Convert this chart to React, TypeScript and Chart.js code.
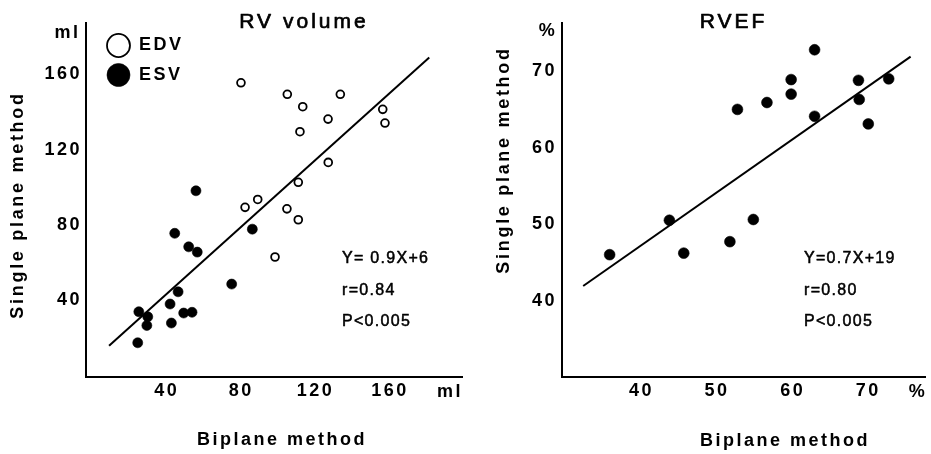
import React, { useEffect, useRef } from 'react';
import { Chart, registerables } from 'chart.js';

Chart.register(...registerables);

// ---------- Data: RV volume (ml) ----------
const edvBiplane = [79.9, 104.8, 113.1, 133.3, 156.1, 157.3, 126.7, 111.6, 126.8, 110.7, 88.9, 82.1, 104.6, 110.7, 98.2];
const edvSingle = [155.5, 149.4, 142.8, 149.4, 141.4, 134.1, 136.2, 129.5, 113.2, 102.6, 93.5, 89.3, 88.5, 82.7, 62.9];
const esvBiplane = [55.7, 44.3, 51.8, 56.4, 86.0, 74.9, 46.1, 41.8, 49.1, 53.6, 25.0, 29.8, 29.3, 42.5, 24.4];
const esvSingle = [98.1, 75.5, 68.3, 65.5, 77.7, 48.5, 44.4, 37.9, 33.1, 33.5, 33.8, 31.1, 26.5, 27.8, 17.3];
const volFitX = [9.0, 181.1];
const volFitY = [15.7, 169.0];
const volTicks = [40, 80, 120, 160];
const volStats = ['Y= 0.9X+6', 'r=0.84', 'P<0.005'];

// ---------- Data: RVEF (%) ----------
const efBiplane = [35.8, 43.7, 45.6, 51.7, 54.8, 52.7, 56.6, 59.8, 59.8, 62.9, 62.9, 68.7, 68.8, 70.0, 72.7];
const efSingle = [46.0, 50.5, 46.2, 47.7, 50.6, 65.0, 65.9, 68.9, 67.0, 72.8, 64.1, 68.8, 66.3, 63.1, 69.0];
const efFitX = [32.3, 75.6];
const efFitY = [41.9, 71.9];
const efTicks = [40, 50, 60, 70];
const efStats = ['Y=0.7X+19', 'r=0.80', 'P<0.005'];

// ---------- Text ----------
const xAxisTitle = 'Biplane method';
const yAxisTitle = 'Single plane method';

const H = 454;
const FAMILY = '"Liberation Sans", Arial, sans-serif';
const pairs = (xs: number[], ys: number[]) => xs.map((x, i) => ({ x, y: ys[i] }));

const fitLine = (xs: number[], ys: number[]) => ({
  label: '',
  data: pairs(xs, ys),
  showLine: true,
  borderColor: '#000',
  borderWidth: 2,
  pointRadius: 0,
  order: 2,
});

const volSpec = {
  width: 470,
  area: { left: 86, top: 23, right: 462, bottom: 377 },
  xRange: [-3.4, 198.7],
  yRange: [-0.9, 187.3],
  xTicks: volTicks,
  yTicks: volTicks,
  xTickPad: 3,
  yTickPad: 4,
  legend: true,
  datasets: [
    fitLine(volFitX, volFitY),
    {
      label: 'EDV',
      data: pairs(edvBiplane, edvSingle),
      pointStyle: 'circle',
      backgroundColor: '#fff',
      borderColor: '#000',
      borderWidth: 1.8,
      pointRadius: 3.9,
      order: 1,
    },
    {
      label: 'ESV',
      data: pairs(esvBiplane, esvSingle),
      pointStyle: 'circle',
      backgroundColor: '#000',
      borderColor: '#000',
      borderWidth: 0.6,
      pointRadius: 5,
      order: 1,
    },
  ],
  texts: {
    title: { text: 'RV volume', x: 304, y: 22 },
    yUnit: { text: 'ml', x: 67.5, y: 33 },
    xUnit: { text: 'ml', x: 450, y: 392 },
    yTitle: { text: yAxisTitle, x: 18, y: 205 },
    xTitle: { text: xAxisTitle, x: 282, y: 440 },
    stats: { lines: volStats, x: 342, ys: [259, 291, 322] },
    legendAt: [95.5, 25],
  },
};

const efSpec = {
  width: 461,
  area: { left: 92, top: 23, right: 457, bottom: 377 },
  xRange: [29.5, 77.5],
  yRange: [30, 76.3],
  xTicks: efTicks,
  yTicks: efTicks,
  xTickPad: 3,
  yTickPad: 5,
  legend: false,
  datasets: [
    fitLine(efFitX, efFitY),
    {
      label: 'RVEF',
      data: pairs(efBiplane, efSingle),
      pointStyle: 'circle',
      backgroundColor: '#000',
      borderColor: '#000',
      borderWidth: 0.6,
      pointRadius: 5.4,
      order: 1,
    },
  ],
  texts: {
    title: { text: 'RVEF', x: 263.5, y: 22 },
    yUnit: { text: '%', x: 78, y: 31 },
    xUnit: { text: '%', x: 448, y: 392 },
    yTitle: { text: yAxisTitle, x: 34, y: 160 },
    xTitle: { text: xAxisTitle, x: 315, y: 441 },
    stats: { lines: efStats, x: 334, ys: [259, 291, 322] },
    legendAt: null,
  },
};

const figTextPlugin = {
  id: 'figText',
  beforeDraw(chart: any) {
    chart.ctx.letterSpacing = '2.5px';
  },
  afterLayout(chart: any, _args: any, opts: any) {
    const lg = chart.legend;
    if (lg && opts && opts.legendAt) {
      const [l, t] = opts.legendAt;
      lg.left = l;
      lg.top = t;
      lg.right = l + lg.width + 60;
      lg.bottom = t + 150;
      lg.height = 150;
    }
  },
  afterDraw(chart: any, _args: any, o: any) {
    const ctx = chart.ctx as CanvasRenderingContext2D;
    const put = (
      text: string,
      x: number,
      y: number,
      font: string,
      spacing: number,
      align: CanvasTextAlign = 'center',
      rot = 0,
      thicken = 0
    ) => {
      ctx.save();
      ctx.fillStyle = '#000';
      ctx.strokeStyle = '#000';
      ctx.font = font;
      (ctx as any).letterSpacing = spacing + 'px';
      ctx.textAlign = align;
      ctx.textBaseline = 'middle';
      ctx.translate(x, y);
      if (rot) ctx.rotate(rot);
      ctx.fillText(text, 0, 0);
      if (thicken) {
        ctx.lineWidth = thicken;
        ctx.lineJoin = 'round';
        ctx.strokeText(text, 0, 0);
      }
      ctx.restore();
    };
    const bold = `bold 18px ${FAMILY}`;
    put(o.title.text, o.title.x, o.title.y, `21px ${FAMILY}`, 3, 'center', 0, 0.7);
    put(o.yUnit.text, o.yUnit.x, o.yUnit.y, bold, 2.5);
    put(o.xUnit.text, o.xUnit.x, o.xUnit.y, bold, 2.5);
    put(o.yTitle.text, o.yTitle.x, o.yTitle.y, bold, 2.7, 'center', -Math.PI / 2);
    put(o.xTitle.text, o.xTitle.x, o.xTitle.y, bold, 2.5);
    o.stats.lines.forEach((line: string, i: number) => {
      put(line, o.stats.x, o.stats.ys[i], `16px ${FAMILY}`, 1.3, 'left', 0, 0.5);
    });
  },
};

function buildConfig(spec: any): any {
  const tickFont = { family: FAMILY, size: 18, weight: 'bold' as const };
  return {
    type: 'scatter',
    data: { datasets: spec.datasets },
    options: {
      responsive: false,
      maintainAspectRatio: false,
      animation: false,
      devicePixelRatio: 1,
      events: [],
      layout: {
        padding: { left: 0, top: spec.area.top, right: spec.width - spec.area.right, bottom: 0 },
      },
      scales: {
        x: {
          type: 'linear',
          min: spec.xRange[0],
          max: spec.xRange[1],
          afterBuildTicks: (s: any) => {
            s.ticks = spec.xTicks.map((v: number) => ({ value: v }));
          },
          afterFit: (s: any) => {
            s.height = H - spec.area.bottom;
          },
          grid: { display: false, drawTicks: false },
          border: { display: true, color: '#000', width: 2 },
          ticks: { color: '#000', font: tickFont, padding: spec.xTickPad, maxRotation: 0, autoSkip: false },
        },
        y: {
          type: 'linear',
          min: spec.yRange[0],
          max: spec.yRange[1],
          afterBuildTicks: (s: any) => {
            s.ticks = spec.yTicks.map((v: number) => ({ value: v }));
          },
          afterFit: (s: any) => {
            s.width = spec.area.left;
          },
          grid: { display: false, drawTicks: false },
          border: { display: true, color: '#000', width: 2 },
          ticks: { color: '#000', font: tickFont, padding: spec.yTickPad, autoSkip: false },
        },
      },
      plugins: {
        legend: spec.legend
          ? {
              display: true,
              position: 'chartArea',
              fullSize: false,
              align: 'start',
              labels: {
                usePointStyle: true,
                pointStyleWidth: 23,
                boxWidth: 23,
                boxHeight: 16.3,
                padding: 11.5,
                color: '#000',
                font: { family: FAMILY, size: 18, weight: 'bold' },
                filter: (item: any) => !!item.text,
              },
            }
          : { display: false },
        tooltip: { enabled: false },
        title: { display: false },
        figText: spec.texts,
      },
    },
    plugins: [figTextPlugin],
  };
}

function Panel({ spec, left }: { spec: any; left: number }) {
  const ref = useRef<HTMLCanvasElement>(null);
  useEffect(() => {
    const chart = new Chart(ref.current as HTMLCanvasElement, buildConfig(spec));
    return () => chart.destroy();
  }, [spec]);
  return (
    <canvas
      ref={ref}
      width={spec.width}
      height={H}
      style={{ position: 'absolute', left, top: 0, width: spec.width, height: H }}
    />
  );
}

export default function App() {
  return (
    <div style={{ position: 'absolute', left: 0, top: 0, width: 931, height: H, background: '#fff', overflow: 'hidden' }}>
      <Panel spec={volSpec} left={0} />
      <Panel spec={efSpec} left={470} />
    </div>
  );
}
